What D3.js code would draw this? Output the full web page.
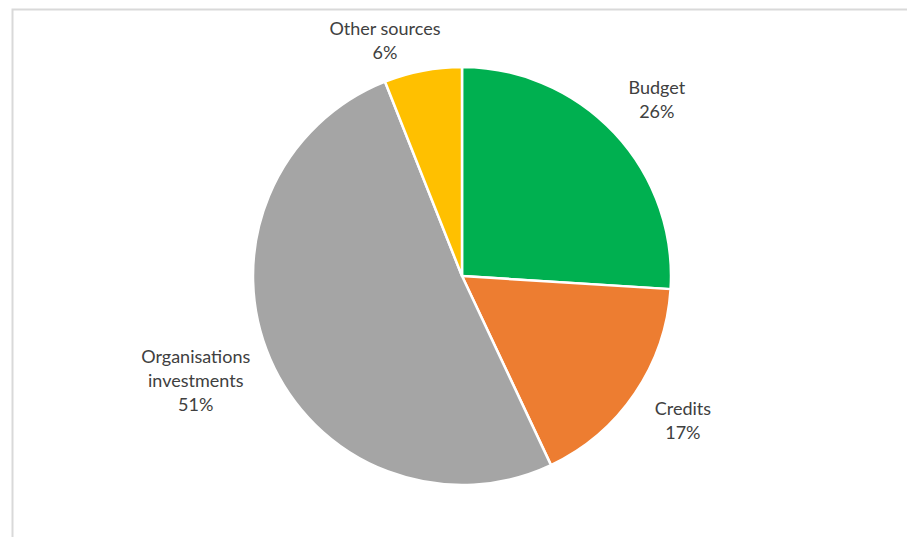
<!DOCTYPE html>
<html>
<head>
<meta charset="utf-8">
<script src="https://cdn.jsdelivr.net/npm/d3@7"></script>
<style>
  html, body { margin: 0; padding: 0; background: #fff; }
  svg { display: block; }
</style>
</head>
<body>
<svg id="chart" width="907" height="537"></svg>
<script>
// Funding sources, share of total (%)
const categories = ["Budget", "Credits", "Organisations investments", "Other sources"];
const shares = [26, 17, 51, 6];
const colors = ["#00b050", "#ed7d31", "#a5a5a5", "#ffc000"];
// Label lines per slice
const labelLines = [["Budget"], ["Credits"], ["Organisations", "investments"], ["Other sources"]];

const W = 907, H = 537;
const cx = 462, cy = 276, R = 209;

const svg = d3.select("#chart");

// Chart frame
svg.append("path")
  .attr("d", `M12.5,${H} V9.5 H${W}`)
  .attr("fill", "none")
  .attr("stroke", "#d9d9d9")
  .attr("stroke-width", 2);

const data = categories.map((c, i) => ({ name: c, value: shares[i], color: colors[i], lines: labelLines[i] }));

const pie = d3.pie().value(d => d.value).sort(null);
const arcs = pie(data);
const arc = d3.arc().innerRadius(0).outerRadius(R);

const g = svg.append("g").attr("transform", `translate(${cx},${cy})`);

g.selectAll("path.slice")
  .data(arcs)
  .join("path")
  .attr("class", "slice")
  .attr("d", arc)
  .attr("fill", d => d.data.color)
  .attr("stroke", "#fff")
  .attr("stroke-width", 2.5)
  .attr("stroke-linejoin", "round");

// Outside labels: distance from centre and small angular nudge per slice
const labelRadius = { "Budget": 263, "Credits": 264, "Organisations investments": 286, "Other sources": 248 };
const labelNudge = { "Budget": 1, "Credits": -1, "Organisations investments": 2, "Other sources": -7.3 };

const lineH = 24;
arcs.forEach(a => {
  const mid = (a.startAngle + a.endAngle) / 2 + labelNudge[a.data.name] * Math.PI / 180;
  const r = labelRadius[a.data.name];
  const x = r * Math.sin(mid), y = -r * Math.cos(mid);
  const lines = a.data.lines.concat([a.data.value + "%"]);
  const t = g.append("text")
    .attr("text-anchor", "middle")
    .attr("font-family", "Lato, 'Open Sans', sans-serif")
    .attr("font-size", 18)
    .attr("fill", "#404040");
  const y0 = y - (lines.length - 1) * lineH / 2;
  lines.forEach((l, i) => {
    t.append("tspan")
      .attr("x", x)
      .attr("y", y0 + i * lineH)
      .attr("dy", "0.35em")
      .text(l);
  });
});
</script>
</body>
</html>
